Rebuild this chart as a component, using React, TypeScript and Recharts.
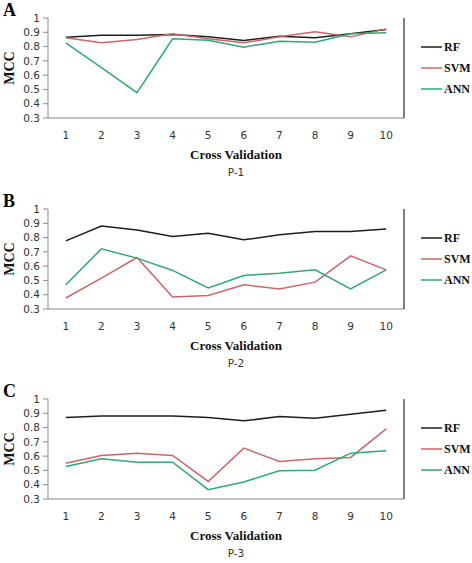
import { LineChart, Line, XAxis, YAxis, Legend, Label } from "recharts";

const folds = ["1", "2", "3", "4", "5", "6", "7", "8", "9", "10"];
const mccTicks = [0.3, 0.4, 0.5, 0.6, 0.7, 0.8, 0.9, 1];

const rfP1 = [0.866, 0.879, 0.879, 0.884, 0.868, 0.842, 0.873, 0.861, 0.889, 0.919];
const svmP1 = [0.861, 0.826, 0.849, 0.889, 0.854, 0.826, 0.868, 0.903, 0.868, 0.924];
const annP1 = [0.826, 0.652, 0.478, 0.854, 0.845, 0.796, 0.838, 0.831, 0.889, 0.896];

const rfP2 = [0.777, 0.881, 0.853, 0.807, 0.83, 0.784, 0.819, 0.842, 0.842, 0.86];
const svmP2 = [0.377, 0.516, 0.66, 0.384, 0.395, 0.47, 0.44, 0.488, 0.672, 0.574];
const annP2 = [0.47, 0.721, 0.656, 0.57, 0.447, 0.535, 0.551, 0.574, 0.44, 0.574];

const rfP3 = [0.87, 0.881, 0.881, 0.881, 0.87, 0.847, 0.877, 0.865, 0.893, 0.921];
const svmP3 = [0.551, 0.605, 0.621, 0.605, 0.423, 0.656, 0.563, 0.581, 0.591, 0.791];
const annP3 = [0.528, 0.581, 0.558, 0.558, 0.365, 0.419, 0.498, 0.502, 0.621, 0.637];

const series = [
  { key: "RF", color: "#1e1e1e" },
  { key: "SVM", color: "#cc6666" },
  { key: "ANN", color: "#2fa874" },
];

const serif = "'Liberation Serif', 'Times New Roman', serif";
const sans = "'DejaVu Sans', Verdana, sans-serif";

type PanelProps = {
  letter: string;
  caption: string;
  top: number;
  rf: number[];
  svm: number[];
  ann: number[];
};

function LegendBox() {
  return (
    <svg width={51} height={63}>
      {series.map((s, i) => (
        <g key={s.key}>
          <line x1={0} x2={21} y1={10 + i * 21} y2={10 + i * 21} stroke={s.color} strokeWidth={1.5} />
          <text x={23} y={14 + i * 21} fontFamily={serif} fontWeight="bold" fontSize={12} fill="#111">
            {s.key}
          </text>
        </g>
      ))}
    </svg>
  );
}

function Panel({ letter, caption, top, rf, svm, ann }: PanelProps) {
  const data = folds.map((f, i) => ({ fold: f, RF: rf[i], SVM: svm[i], ANN: ann[i] }));

  return (
    <div style={{ position: "absolute", left: 0, top, width: 472, height: 182 }}>
      <div
        style={{
          position: "absolute",
          left: 3,
          top: 1,
          fontFamily: serif,
          fontWeight: "bold",
          fontSize: 18,
          lineHeight: "18px",
          color: "#000",
          zIndex: 2,
        }}
      >
        {letter}
      </div>
      <LineChart width={472} height={182} data={data} margin={{ top: 18, right: 16, left: 0, bottom: 0 }}>
        <XAxis
          dataKey="fold"
          height={64}
          padding={{ left: 17.8, right: 17.8 }}
          axisLine={{ stroke: "#8a8a8a" }}
          tickLine={false}
          tickSize={0}
          tickMargin={14}
          tick={{ fontSize: 10.5, fontFamily: sans, fill: "#333" }}
          interval={0}
        >
          <Label
            value="Cross Validation"
            position="insideTop"
            offset={32}
            dx={10}
            style={{ fontFamily: serif, fontWeight: "bold", fontSize: 13, fill: "#111" }}
          />
          <Label
            value={caption}
            position="insideTop"
            offset={51}
            dx={10}
            style={{ fontFamily: sans, fontSize: 10.5, fill: "#333" }}
          />
        </XAxis>
        <XAxis
          xAxisId="top"
          orientation="top"
          dataKey="fold"
          height={0}
          padding={{ left: 17.8, right: 17.8 }}
          tick={false}
          tickLine={false}
          axisLine={{ stroke: "#000" }}
        />
        <YAxis
          width={48}
          domain={[0.3, 1]}
          ticks={mccTicks}
          interval={0}
          allowDataOverflow
          tickFormatter={(v: number) => String(Math.round(v * 10) / 10)}
          axisLine={{ stroke: "#8a8a8a" }}
          tickLine={{ stroke: "#8a8a8a" }}
          tickSize={5}
          tickMargin={3}
          tick={{ fontSize: 10.5, fontFamily: sans, fill: "#333" }}
        >
          <Label
            value="MCC"
            angle={-90}
            position="insideLeft"
            offset={9}
            style={{ fontFamily: serif, fontWeight: "bold", fontSize: 14, fill: "#111", textAnchor: "middle" }}
          />
        </YAxis>
        <YAxis
          yAxisId="r"
          orientation="right"
          width={1}
          domain={[0.3, 1]}
          tick={false}
          tickLine={false}
          axisLine={{ stroke: "#000" }}
        />
        <Legend
          layout="vertical"
          align="right"
          verticalAlign="top"
          wrapperStyle={{ left: 421, top: 37, width: 51 }}
          content={() => <LegendBox />}
        />
        {series.map((s) => (
          <Line
            key={s.key}
            dataKey={s.key}
            stroke={s.color}
            strokeWidth={1.5}
            dot={false}
            type="linear"
            isAnimationActive={false}
          />
        ))}
      </LineChart>
    </div>
  );
}

export default function App() {
  return (
    <div style={{ position: "absolute", left: 0, top: 0, width: 472, height: 563, background: "#fff" }}>
      <Panel letter="A" caption="P-1" top={0} rf={rfP1} svm={svmP1} ann={annP1} />
      <Panel letter="B" caption="P-2" top={191} rf={rfP2} svm={svmP2} ann={annP2} />
      <Panel letter="C" caption="P-3" top={381} rf={rfP3} svm={svmP3} ann={annP3} />
    </div>
  );
}
